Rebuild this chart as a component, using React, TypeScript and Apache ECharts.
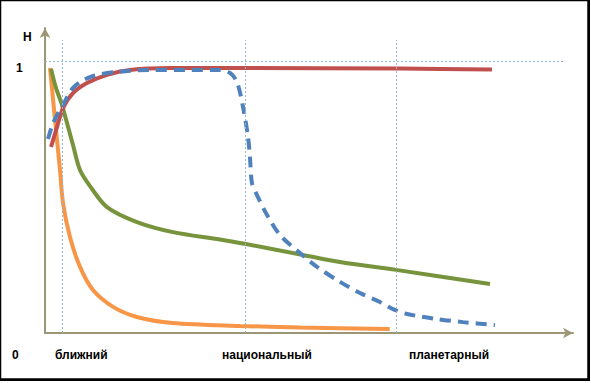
import React, { useEffect, useRef } from "react";
import * as echarts from "echarts";

// x: position along the scale (0..100), y: H value (0..1)
const orangeX = [0.95, 1.9, 2.84, 3.41, 4.73, 6.63, 9.09, 12.9, 17.4, 24.2, 36.9, 48.3, 65.3];
const orangeY = [0.974, 0.783, 0.599, 0.478, 0.353, 0.243, 0.158, 0.096, 0.059, 0.037, 0.026, 0.02, 0.015];

const greenX = [1.14, 2.08, 3.22, 5.3, 6.63, 8.52, 11.74, 17.42, 24.24, 33.14, 38.07, 48.86, 55.87, 66.48, 84.28];
const greenY = [0.971, 0.901, 0.838, 0.691, 0.599, 0.54, 0.463, 0.408, 0.371, 0.344, 0.327, 0.287, 0.261, 0.232, 0.18];

const redX = [1.14, 2.27, 3.41, 5.3, 7.95, 11.74, 16.1, 23.67, 36.93, 67.23, 84.66];
const redY = [0.684, 0.757, 0.827, 0.882, 0.919, 0.949, 0.967, 0.974, 0.974, 0.972, 0.969];

const blueX = [0.57, 1.33, 2.27, 3.41, 5.3, 8.52, 13.64, 19.89, 27.46, 33.14, 35.04, 36.36, 37.5, 38.45, 38.83, 39.2, 40.15, 42.05, 44.51, 48.3, 51.52, 55.87, 59.66, 63.45, 65.91, 68.56, 74.24, 79.17, 85.23];
const blueY = [0.713, 0.761, 0.801, 0.838, 0.901, 0.941, 0.96, 0.967, 0.967, 0.967, 0.956, 0.923, 0.831, 0.721, 0.643, 0.551, 0.507, 0.434, 0.36, 0.294, 0.243, 0.188, 0.147, 0.114, 0.088, 0.07, 0.051, 0.04, 0.029];

const guideX = [3.2, 37.9, 66.5];
const guideTop = 1.077;
const levelOne = 1;
const levelOneEnd = 98.5;

const categoryLabels = ["ближний", "национальный", "планетарный"];
const axisName = "Н";
const tickOne = "1";
const tickZero = "0";

const zip = (xs: number[], ys: number[]) => xs.map((x, i) => [x, ys[i]]);

export default function App() {
  const ref = useRef<HTMLDivElement>(null);
  useEffect(() => {
    document.body.style.margin = "0";
    const chart = echarts.init(ref.current!, null, { renderer: "svg" });
    const axisColor = "#9d9674";
    const font = "Liberation Sans";
    const labelStyle = { fontFamily: font, fontWeight: "bold" as const, fontSize: 12, fill: "#000" };
    const catX = [55, 222, 409];
    const lineSeries = (xs: number[], ys: number[], color: string, z: number, type: any = "solid") => ({
      type: "line",
      data: zip(xs, ys),
      smooth: 0.3,
      showSymbol: false,
      lineStyle: { color, width: 4, type },
      z,
    });
    chart.setOption({
      animation: false,
      backgroundColor: "#fff",
      grid: { left: 45, top: 28, right: 18, bottom: 50 },
      xAxis: {
        type: "value",
        min: 0,
        max: 100,
        axisLine: { show: true, lineStyle: { color: axisColor, width: 2 }, symbol: ["none", "arrow"], symbolSize: [8, 10] },
        axisTick: { show: false },
        axisLabel: { show: false },
        splitLine: { show: false },
      },
      yAxis: {
        type: "value",
        min: 0,
        max: 1.1213,
        axisLine: { show: true, lineStyle: { color: axisColor, width: 2 }, symbol: ["none", "arrow"], symbolSize: [8, 10] },
        axisTick: { show: false },
        axisLabel: { show: false },
        splitLine: { show: false },
      },
      series: [
        {
          type: "line",
          data: [],
          z: 1,
          markLine: {
            silent: true,
            symbol: ["none", "none"],
            label: { show: false },
            lineStyle: { color: "#95b3d7", width: 1, type: [2, 2] },
            data: [
              [{ coord: [0, levelOne] }, { coord: [levelOneEnd, levelOne] }],
              ...guideX.map((gx) => [{ coord: [gx, 0] }, { coord: [gx, guideTop] }]),
            ],
          },
        },
        lineSeries(orangeX, orangeY, "#f79646", 3),
        lineSeries(greenX, greenY, "#77933c", 3),
        lineSeries(blueX, blueY, "#4f81bd", 4, [11, 7]),
        lineSeries(redX, redY, "#c0504d", 3),
      ],
      graphic: [
        { type: "rect", shape: { x: 0.5, y: 0.5, width: 587.5, height: 378.5 }, style: { fill: "none", stroke: "#000", lineWidth: 1.5 }, z: 10 },
        { type: "line", shape: { x1: 589, y1: 0, x2: 589, y2: 381 }, style: { stroke: "#000", lineWidth: 2 }, z: 10 },
        { type: "line", shape: { x1: 0, y1: 380, x2: 590, y2: 380 }, style: { stroke: "#000", lineWidth: 2 }, z: 10 },
        { type: "text", x: 23, y: 31, style: { ...labelStyle, text: axisName } },
        { type: "text", x: 16, y: 62, style: { ...labelStyle, text: tickOne } },
        { type: "text", x: 12, y: 349, style: { ...labelStyle, text: tickZero } },
        ...categoryLabels.map((t, i) => ({ type: "text", x: catX[i], y: 349, style: { ...labelStyle, text: t } })),
      ],
    });
    return () => chart.dispose();
  }, []);
  return <div ref={ref} style={{ width: 591, height: 383 }} />;
}
